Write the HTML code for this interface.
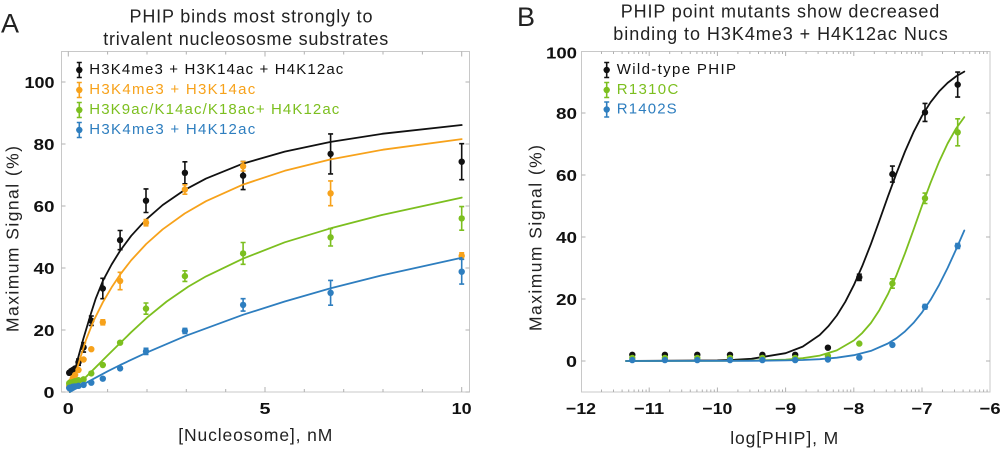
<!DOCTYPE html>
<html><head><meta charset="utf-8"><style>
html,body{margin:0;padding:0;background:#fff;}
svg{display:block;}
text{font-family:"Liberation Sans",sans-serif;}
.t{font-size:18px;fill:#222;}
.tk{font-size:16px;font-weight:bold;fill:#111;}
.ax{font-size:17.5px;fill:#222;}
.lg{font-size:15px;}
.fr{fill:none;stroke:#c8c8c8;stroke-width:1;}
.tick{fill:none;stroke:#b0b0b0;stroke-width:1;}
.cv{fill:none;stroke-width:1.8;stroke-linejoin:round;stroke-linecap:round;}
.eb{fill:none;stroke-width:1.6;}
</style></head><body>
<svg width="1000" height="450" viewBox="0 0 1000 450" xmlns="http://www.w3.org/2000/svg">
<rect width="1000" height="450" fill="#fff"/>

<!-- ================= Panel A ================= -->
<text x="1" y="32.5" style="font-size:27px;fill:#222;">A</text>
<text class="t" x="251" y="22.7" text-anchor="middle" textLength="243" lengthAdjust="spacing">PHIP binds most strongly to</text>
<text class="t" x="245.8" y="45" text-anchor="middle" textLength="285" lengthAdjust="spacing">trivalent nucleososme substrates</text>

<rect class="fr" x="61.5" y="51.5" width="408" height="340.5"/>
<path class="tick" d="M61.5,392h4M61.5,330h4M61.5,268h4M61.5,206h4M61.5,144h4M61.5,82h4
M469.5,392h-4M469.5,330h-4M469.5,268h-4M469.5,206h-4M469.5,144h-4M469.5,82h-4
M68.3,392v-5M107.6,392v-3M147,392v-3M186.3,392v-3M225.7,392v-3M265,392v-5M304.3,392v-3M343.7,392v-3M383,392v-3M422.4,392v-3M461.7,392v-5
M68.3,51.5v5M107.6,51.5v3M147,51.5v3M186.3,51.5v3M225.7,51.5v3M265,51.5v5M304.3,51.5v3M343.7,51.5v3M383,51.5v3M422.4,51.5v3M461.7,51.5v5"/>

<text class="tk" x="54.5" y="398" text-anchor="end" textLength="11" lengthAdjust="spacingAndGlyphs">0</text>
<text class="tk" x="54.5" y="336" text-anchor="end" textLength="21" lengthAdjust="spacingAndGlyphs">20</text>
<text class="tk" x="54.5" y="274" text-anchor="end" textLength="21" lengthAdjust="spacingAndGlyphs">40</text>
<text class="tk" x="54.5" y="212" text-anchor="end" textLength="21" lengthAdjust="spacingAndGlyphs">60</text>
<text class="tk" x="54.5" y="150" text-anchor="end" textLength="21" lengthAdjust="spacingAndGlyphs">80</text>
<text class="tk" x="54.5" y="88" text-anchor="end" textLength="30" lengthAdjust="spacingAndGlyphs">100</text>

<text class="tk" x="68.3" y="414" text-anchor="middle" textLength="11" lengthAdjust="spacingAndGlyphs">0</text>
<text class="tk" x="265" y="414" text-anchor="middle" textLength="11" lengthAdjust="spacingAndGlyphs">5</text>
<text class="tk" x="461.7" y="414" text-anchor="middle" textLength="20" lengthAdjust="spacingAndGlyphs">10</text>

<text class="ax" x="255.3" y="441" text-anchor="middle" textLength="154" lengthAdjust="spacing">[Nucleosome], nM</text>
<text class="ax" transform="translate(18.5,239) rotate(-90)" text-anchor="middle" textLength="186" lengthAdjust="spacing">Maximum Signal (%)</text>

<!-- legend A -->
<text class="lg" x="89.3" y="74" textLength="254" lengthAdjust="spacing" fill="#111">H3K4me3 + H3K14ac + H4K12ac</text>
<text class="lg" x="89.3" y="94" textLength="166" lengthAdjust="spacing" fill="#f7a21b">H3K4me3 + H3K14ac</text>
<text class="lg" x="89.3" y="114" textLength="250" lengthAdjust="spacing" fill="#7cbf1f">H3K9ac/K14ac/K18ac+ H4K12ac</text>
<text class="lg" x="89.3" y="134" textLength="166" lengthAdjust="spacing" fill="#2e7ebf">H3K4me3 + H4K12ac</text>
<path class="eb" stroke="#111" d="M79.3,62.5V77.5M76.8,62.5H81.8M76.8,77.5H81.8"/>
<circle cx="79.3" cy="70" r="3.2" fill="#111"/>
<path class="eb" stroke="#f7a21b" d="M79.3,82.5V97.5M76.8,82.5H81.8M76.8,97.5H81.8"/>
<circle cx="79.3" cy="90" r="3.2" fill="#f7a21b"/>
<path class="eb" stroke="#7cbf1f" d="M79.3,102.5V117.5M76.8,102.5H81.8M76.8,117.5H81.8"/>
<circle cx="79.3" cy="110" r="3.2" fill="#7cbf1f"/>
<path class="eb" stroke="#2e7ebf" d="M79.3,122.5V137.5M76.8,122.5H81.8M76.8,137.5H81.8"/>
<circle cx="79.3" cy="130" r="3.2" fill="#2e7ebf"/>

<!-- Black A -->
<polyline class="cv" stroke="#111" points="69.9,392 74.2,373.4 78.1,357.9 83.2,339.3 91.1,312.95 95.8,298.4 102.9,280.8 111.6,264.5 120.2,250.6 131.2,235.8 146.2,219.45 162.7,205 184.7,189.9 206,178.6 243,163.6 284.7,151.6 330.7,141.9 383,133.7 461.7,125"/>
<path class="eb" stroke="#111" d="M461.7,143.7V179.7M459.2,143.7H464.2M459.2,179.7H464.2M330.6,133.9V173.9M328.1,133.9H333.1M328.1,173.9H333.1M243.1,161.6V189.6M240.6,161.6H245.6M240.6,189.6H245.6M184.9,161.8V183.8M182.4,161.8H187.4M182.4,183.8H187.4M146,188.9V212.5M143.5,188.9H148.5M143.5,212.5H148.5M120.1,230.5V249.7M117.6,230.5H122.6M117.6,249.7H122.6M102.8,278.3V298.7M100.3,278.3H105.3M100.3,298.7H105.3M91.3,316V325.4M88.8,316H93.8M88.8,325.4H93.8M83.6,342.7V352.1M81.1,342.7H86.1M81.1,352.1H86.1M78.5,359.1V365.3M76,359.1H81M76,365.3H81"/>
<g fill="#111">
<circle cx="461.7" cy="161.7" r="3.2"/><circle cx="330.6" cy="153.9" r="3.2"/><circle cx="243.1" cy="175.6" r="3.2"/><circle cx="184.9" cy="172.8" r="3.2"/><circle cx="146" cy="200.7" r="3.2"/><circle cx="120.1" cy="240.1" r="3.2"/><circle cx="102.8" cy="288.5" r="3.2"/><circle cx="91.3" cy="320.7" r="3.2"/><circle cx="83.6" cy="347.4" r="3.2"/><circle cx="78.5" cy="362.2" r="3.2"/><circle cx="75.1" cy="368.4" r="3.2"/><circle cx="72.9" cy="370" r="3.2"/><circle cx="71.3" cy="370.9" r="3.2"/><circle cx="70.3" cy="372.2" r="3.2"/><circle cx="69.6" cy="372.5" r="3.2"/><circle cx="69.2" cy="372.8" r="3.2"/>
</g>

<!-- Orange A -->
<polyline class="cv" stroke="#f7a21b" points="69.9,392 74.2,378.05 80.1,358.5 86,339.9 93.5,321 102.9,302.2 111.6,287.4 120.2,274.45 131.2,260.25 146.2,244 162.7,229.3 184.7,213.5 206,201.2 243,184.6 284.7,170.8 330.7,159.4 383,149.7 461.7,139.1"/>
<path class="eb" stroke="#f7a21b" d="M461.7,252.8V259M459.2,252.8H464.2M459.2,259H464.2M330.6,180.9V205.7M328.1,180.9H333.1M328.1,205.7H333.1M243.1,161.6V171M240.6,161.6H245.6M240.6,171H245.6M184.9,184.8V194.2M182.4,184.8H187.4M182.4,194.2H187.4M146,219.6V225.8M143.5,219.6H148.5M143.5,225.8H148.5M120.1,272.3V289.7M117.6,272.3H122.6M117.6,289.7H122.6M102.8,319.8V324.8M100.3,319.8H105.3M100.3,324.8H105.3"/>
<g fill="#f7a21b">
<circle cx="461.7" cy="255.9" r="3.2"/><circle cx="330.6" cy="193.3" r="3.2"/><circle cx="243.1" cy="166.3" r="3.2"/><circle cx="184.9" cy="189.5" r="3.2"/><circle cx="146" cy="222.7" r="3.2"/><circle cx="120.1" cy="281" r="3.2"/><circle cx="102.8" cy="322.3" r="3.2"/><circle cx="91.3" cy="349.2" r="3.2"/><circle cx="83.6" cy="359.5" r="3.2"/><circle cx="78.5" cy="370" r="3.2"/><circle cx="75.1" cy="375" r="3.2"/><circle cx="72.9" cy="378" r="3.2"/><circle cx="71.3" cy="381.2" r="3.2"/><circle cx="70.3" cy="382.7" r="3.2"/><circle cx="69.6" cy="384.2" r="3.2"/><circle cx="69.2" cy="385.8" r="3.2"/>
</g>

<!-- Green A -->
<polyline class="cv" stroke="#7cbf1f" points="69.9,392 76.2,386.4 84.8,378.05 95.8,367.2 107.6,355.4 120.2,343 131.2,332.2 147,317.6 166.7,301.5 188.3,286.6 206,276.4 242.9,258.7 284.7,242.3 330.7,228.3 383,214.7 461.7,197.6"/>
<path class="eb" stroke="#7cbf1f" d="M461.7,206.6V230.2M459.2,206.6H464.2M459.2,230.2H464.2M330.6,228.6V246M328.1,228.6H333.1M328.1,246H333.1M243.1,242.5V264.3M240.6,242.5H245.6M240.6,264.3H245.6M184.9,270.8V281.4M182.4,270.8H187.4M182.4,281.4H187.4M146,303V314.2M143.5,303H148.5M143.5,314.2H148.5"/>
<g fill="#7cbf1f">
<circle cx="461.7" cy="218.4" r="3.2"/><circle cx="330.6" cy="237.3" r="3.2"/><circle cx="243.1" cy="253.4" r="3.2"/><circle cx="184.9" cy="276.1" r="3.2"/><circle cx="146" cy="308.6" r="3.2"/><circle cx="120.1" cy="342.7" r="3.2"/><circle cx="102.8" cy="365" r="3.2"/><circle cx="91.3" cy="373.4" r="3.2"/><circle cx="83.6" cy="379.3" r="3.2"/><circle cx="78.5" cy="380.2" r="3.2"/><circle cx="75.1" cy="381.2" r="3.2"/><circle cx="72.9" cy="382.1" r="3.2"/><circle cx="71.3" cy="382.7" r="3.2"/><circle cx="70.3" cy="382.7" r="3.2"/><circle cx="69.6" cy="383" r="3.2"/><circle cx="69.2" cy="383.3" r="3.2"/>
</g>

<!-- Blue A -->
<polyline class="cv" stroke="#2e7ebf" points="69.9,392 88,381.8 107.6,371.3 120.2,365 147,352.4 186.2,335.7 242.9,314.8 284.7,301.5 330.7,288.3 383,275.1 461.7,257.8"/>
<path class="eb" stroke="#2e7ebf" d="M461.7,259.3V284.1M459.2,259.3H464.2M459.2,284.1H464.2M330.6,280.4V305.2M328.1,280.4H333.1M328.1,305.2H333.1M243.1,298.7V311.1M240.6,298.7H245.6M240.6,311.1H245.6M184.9,328.4V333.4M182.4,328.4H187.4M182.4,333.4H187.4M146,348.3V354.5M143.5,348.3H148.5M143.5,354.5H148.5"/>
<g fill="#2e7ebf">
<circle cx="461.7" cy="271.7" r="3.2"/><circle cx="330.6" cy="292.8" r="3.2"/><circle cx="243.1" cy="304.9" r="3.2"/><circle cx="184.9" cy="330.9" r="3.2"/><circle cx="146" cy="351.4" r="3.2"/><circle cx="120.1" cy="368.4" r="3.2"/><circle cx="102.8" cy="378.7" r="3.2"/><circle cx="91.3" cy="382.7" r="3.2"/><circle cx="83.6" cy="384.9" r="3.2"/><circle cx="78.5" cy="385.8" r="3.2"/><circle cx="75.1" cy="386.4" r="3.2"/><circle cx="72.9" cy="386.7" r="3.2"/><circle cx="71.3" cy="387.4" r="3.2"/><circle cx="70.3" cy="387.7" r="3.2"/><circle cx="69.6" cy="388" r="3.2"/><circle cx="69.2" cy="388" r="3.2"/>
</g>

<!-- ================= Panel B ================= -->
<text x="517" y="26" style="font-size:27px;fill:#222;">B</text>
<text class="t" x="780" y="17.3" text-anchor="middle" textLength="318.6" lengthAdjust="spacing">PHIP point mutants show decreased</text>
<text class="t" x="780.5" y="40" text-anchor="middle" textLength="334.4" lengthAdjust="spacing">binding to H3K4me3 + H4K12ac Nucs</text>

<rect class="fr" x="581.5" y="51.5" width="408.5" height="340.5"/>
<path class="tick" d="M581.5,361h4M581.5,299h4M581.5,237h4M581.5,175h4M581.5,113h4
M990,361h-4M990,299h-4M990,237h-4M990,175h-4M990,113h-4
M649.2,392v-4.5M717.4,392v-4.5M785.6,392v-4.5M853.8,392v-4.5M922,392v-4.5
M649.2,51.5v4.5M717.4,51.5v4.5M785.6,51.5v4.5M853.8,51.5v4.5M922,51.5v4.5
M601.5,392v-2.5M613.5,392v-2.5M622.1,392v-2.5M628.7,392v-2.5M634.1,392v-2.5M638.6,392v-2.5M642.6,392v-2.5M646.1,392v-2.5
M669.7,392v-2.5M681.7,392v-2.5M690.3,392v-2.5M696.9,392v-2.5M702.3,392v-2.5M706.8,392v-2.5M710.8,392v-2.5M714.3,392v-2.5
M737.9,392v-2.5M749.9,392v-2.5M758.5,392v-2.5M765.1,392v-2.5M770.5,392v-2.5M775,392v-2.5M779,392v-2.5M782.5,392v-2.5
M806.1,392v-2.5M818.1,392v-2.5M826.7,392v-2.5M833.3,392v-2.5M838.7,392v-2.5M843.2,392v-2.5M847.2,392v-2.5M850.7,392v-2.5
M874.3,392v-2.5M886.3,392v-2.5M894.9,392v-2.5M901.5,392v-2.5M906.9,392v-2.5M911.4,392v-2.5M915.4,392v-2.5M918.9,392v-2.5
M942.5,392v-2.5M954.5,392v-2.5M963.1,392v-2.5M969.7,392v-2.5M975.1,392v-2.5M979.6,392v-2.5M983.6,392v-2.5M987.1,392v-2.5
M601.5,51.5v2.5M613.5,51.5v2.5M622.1,51.5v2.5M628.7,51.5v2.5M634.1,51.5v2.5M638.6,51.5v2.5M642.6,51.5v2.5M646.1,51.5v2.5
M669.7,51.5v2.5M681.7,51.5v2.5M690.3,51.5v2.5M696.9,51.5v2.5M702.3,51.5v2.5M706.8,51.5v2.5M710.8,51.5v2.5M714.3,51.5v2.5
M737.9,51.5v2.5M749.9,51.5v2.5M758.5,51.5v2.5M765.1,51.5v2.5M770.5,51.5v2.5M775,51.5v2.5M779,51.5v2.5M782.5,51.5v2.5
M806.1,51.5v2.5M818.1,51.5v2.5M826.7,51.5v2.5M833.3,51.5v2.5M838.7,51.5v2.5M843.2,51.5v2.5M847.2,51.5v2.5M850.7,51.5v2.5
M874.3,51.5v2.5M886.3,51.5v2.5M894.9,51.5v2.5M901.5,51.5v2.5M906.9,51.5v2.5M911.4,51.5v2.5M915.4,51.5v2.5M918.9,51.5v2.5
M942.5,51.5v2.5M954.5,51.5v2.5M963.1,51.5v2.5M969.7,51.5v2.5M975.1,51.5v2.5M979.6,51.5v2.5M983.6,51.5v2.5M987.1,51.5v2.5"/>

<text class="tk" x="577" y="367" text-anchor="end" textLength="11" lengthAdjust="spacingAndGlyphs">0</text>
<text class="tk" x="577" y="305" text-anchor="end" textLength="21" lengthAdjust="spacingAndGlyphs">20</text>
<text class="tk" x="577" y="243" text-anchor="end" textLength="21" lengthAdjust="spacingAndGlyphs">40</text>
<text class="tk" x="577" y="181" text-anchor="end" textLength="21" lengthAdjust="spacingAndGlyphs">60</text>
<text class="tk" x="577" y="119" text-anchor="end" textLength="21" lengthAdjust="spacingAndGlyphs">80</text>
<text class="tk" x="577" y="58.5" text-anchor="end" textLength="31" lengthAdjust="spacingAndGlyphs">100</text>

<text class="tk" x="581" y="414" text-anchor="middle" textLength="30" lengthAdjust="spacingAndGlyphs">−12</text>
<text class="tk" x="649.2" y="414" text-anchor="middle" textLength="30" lengthAdjust="spacingAndGlyphs">−11</text>
<text class="tk" x="717.4" y="414" text-anchor="middle" textLength="30" lengthAdjust="spacingAndGlyphs">−10</text>
<text class="tk" x="785.6" y="414" text-anchor="middle" textLength="21" lengthAdjust="spacingAndGlyphs">−9</text>
<text class="tk" x="853.8" y="414" text-anchor="middle" textLength="21" lengthAdjust="spacingAndGlyphs">−8</text>
<text class="tk" x="922" y="414" text-anchor="middle" textLength="21" lengthAdjust="spacingAndGlyphs">−7</text>
<text class="tk" x="990.2" y="414" text-anchor="middle" textLength="21" lengthAdjust="spacingAndGlyphs">−6</text>

<text class="ax" x="784.2" y="444" text-anchor="middle" textLength="108" lengthAdjust="spacing">log[PHIP], M</text>
<text class="ax" transform="translate(541.5,238) rotate(-90)" text-anchor="middle" textLength="186" lengthAdjust="spacing">Maximum Signal (%)</text>

<!-- legend B -->
<text class="lg" x="616.7" y="74" textLength="119.3" lengthAdjust="spacing" fill="#111">Wild-type PHIP</text>
<text class="lg" x="616.7" y="94" textLength="61.6" lengthAdjust="spacing" fill="#7cbf1f">R1310C</text>
<text class="lg" x="616.7" y="113.5" textLength="60" lengthAdjust="spacing" fill="#2e7ebf">R1402S</text>
<path class="eb" stroke="#111" d="M606.7,62.5V77.5M604.2,62.5H609.2M604.2,77.5H609.2"/>
<circle cx="606.7" cy="70" r="3.2" fill="#111"/>
<path class="eb" stroke="#7cbf1f" d="M606.7,82.5V97.5M604.2,82.5H609.2M604.2,97.5H609.2"/>
<circle cx="606.7" cy="90" r="3.2" fill="#7cbf1f"/>
<path class="eb" stroke="#2e7ebf" d="M606.7,102V117M604.2,102H609.2M604.2,117H609.2"/>
<circle cx="606.7" cy="109.5" r="3.2" fill="#2e7ebf"/>

<!-- Black B -->
<polyline class="cv" stroke="#111" points="626,361 717.4,360.4 734.5,359.8 751.5,358.8 785.6,353.2 802.7,346.6 819.7,335 828.2,326.4 836.8,315.5 845.3,301.8 853.8,285.2 862.3,265.9 870.9,244.1 879.4,220.6 887.9,196.6 896.5,173.2 905,151.5 913.5,132.2 922,115.8 930.6,102.2 939.1,91.4 947.6,82.9 956.1,76.4 964.3,71.6"/>
<path class="eb" stroke="#111" d="M859.3,274.2V280.4M856.8,274.2H861.8M856.8,280.4H861.8M892.4,166.1V182.1M889.9,166.1H894.9M889.9,182.1H894.9M925,103.4V121.4M922.5,103.4H927.5M922.5,121.4H927.5M957.7,72.1V97.1M955.2,72.1H960.2M955.2,97.1H960.2"/>
<g fill="#111">
<circle cx="632.3" cy="354.8" r="3.2"/><circle cx="664.9" cy="354.8" r="3.2"/><circle cx="697.3" cy="354.8" r="3.2"/><circle cx="730" cy="354.8" r="3.2"/><circle cx="762.4" cy="354.8" r="3.2"/><circle cx="795.2" cy="354.8" r="3.2"/><circle cx="827.9" cy="347.7" r="3.2"/><circle cx="859.3" cy="277.3" r="3.2"/><circle cx="892.4" cy="174.1" r="3.2"/><circle cx="925" cy="112.4" r="3.2"/><circle cx="957.7" cy="84.6" r="3.2"/>
</g>

<!-- Green B -->
<polyline class="cv" stroke="#7cbf1f" points="626,361 717.4,360.9 751.5,360.65 785.6,359.6 802.7,358.2 819.7,355.6 836.8,350.4 853.8,340.5 862.3,332.9 870.9,323 879.4,310.1 887.9,294.2 896.5,275.1 905,253.3 913.5,229.8 922,205.75 930.6,182.7 939.1,161.7 947.6,143.5 956.1,128.5 964.3,117.1"/>
<path class="eb" stroke="#7cbf1f" d="M892.4,278.8V288.2M889.9,278.8H894.9M889.9,288.2H894.9M925,193.1V203.5M922.5,193.1H927.5M922.5,203.5H927.5M957.7,118.8V145.8M955.2,118.8H960.2M955.2,145.8H960.2"/>
<g fill="#7cbf1f">
<circle cx="632.3" cy="357.9" r="3.2"/><circle cx="664.9" cy="357.9" r="3.2"/><circle cx="697.3" cy="357.9" r="3.2"/><circle cx="730" cy="357.9" r="3.2"/><circle cx="762.4" cy="357.9" r="3.2"/><circle cx="795.2" cy="357.9" r="3.2"/><circle cx="827.9" cy="356" r="3.2"/><circle cx="859.3" cy="343.6" r="3.2"/><circle cx="892.4" cy="283.5" r="3.2"/><circle cx="925" cy="198.3" r="3.2"/><circle cx="957.7" cy="132.3" r="3.2"/>
</g>

<!-- Blue B -->
<polyline class="cv" stroke="#2e7ebf" points="626,361 717.4,360.9 751.5,360.8 785.6,360.4 802.7,360 819.7,359.2 836.8,357.7 853.8,355.2 870.9,350.9 887.9,343.5 896.5,338.2 905,331.4 913.5,322.9 922,312.4 930.6,299.8 939.1,284.9 947.6,268 956.1,249.4 964.3,230.5"/>
<path class="eb" stroke="#2e7ebf" d="M925,304.5V309M922.5,304.5H927.5M922.5,309H927.5M957.7,243.5V248.5M955.2,243.5H960.2M955.2,248.5H960.2"/>
<g fill="#2e7ebf">
<circle cx="632.3" cy="360.1" r="3.2"/><circle cx="664.9" cy="360.1" r="3.2"/><circle cx="697.3" cy="360.1" r="3.2"/><circle cx="730" cy="360.1" r="3.2"/><circle cx="762.4" cy="360.1" r="3.2"/><circle cx="795.2" cy="360.1" r="3.2"/><circle cx="827.9" cy="359.5" r="3.2"/><circle cx="859.3" cy="357.6" r="3.2"/><circle cx="892.4" cy="344.9" r="3.2"/><circle cx="925" cy="306.75" r="3.2"/><circle cx="957.7" cy="246" r="3.2"/>
</g>
</svg>
</body></html>
